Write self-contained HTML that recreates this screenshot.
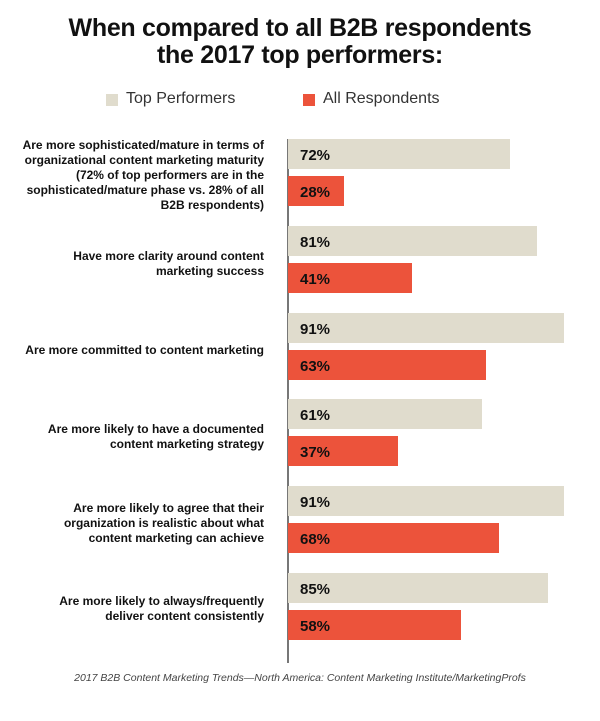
<!DOCTYPE html>
<html><head><meta charset="utf-8"><style>
body{margin:0;background:#fff;width:600px;height:721px;position:relative;font-family:"Liberation Sans",sans-serif;overflow:hidden}
.t{position:absolute;left:0;width:600px;text-align:center;font-weight:bold;font-size:25px;color:#111;letter-spacing:-0.3px}
.bar{position:absolute;left:288px;height:30px}
.g{background:#e0dccd}.r{background:#ec533b}
.v{position:absolute;left:300px;font-weight:bold;font-size:15px;color:#111;line-height:30px;margin-top:2px}
.lab{position:absolute;right:336px;text-align:right;font-weight:bold;font-size:12px;line-height:15px;color:#111;white-space:nowrap}
</style></head><body>
<div class="t" style="top:14px">When compared to all B2B respondents</div>
<div class="t" style="top:41px">the 2017 top performers:</div>
<div style="position:absolute;left:106px;top:94px;width:12px;height:12px;background:#e0dccd"></div>
<div style="position:absolute;left:126px;top:90px;font-size:16px;color:#333">Top Performers</div>
<div style="position:absolute;left:303px;top:94px;width:12px;height:12px;background:#ec533b"></div>
<div style="position:absolute;left:323px;top:90px;font-size:16px;color:#333">All Respondents</div>
<div style="position:absolute;left:287px;top:139px;width:2px;height:524px;background:#777"></div>

<div class="lab" style="top:138px">Are more sophisticated/mature in terms of<br>organizational content marketing maturity<br>(72% of top performers are in the<br>sophisticated/mature phase vs. 28% of all<br>B2B respondents)</div>
<div class="bar g" style="top:139px;width:222px"></div><div class="v" style="top:139px">72%</div>
<div class="bar r" style="top:176px;width:56px"></div><div class="v" style="top:176px">28%</div>

<div class="lab" style="top:249px">Have more clarity around content<br>marketing success</div>
<div class="bar g" style="top:226px;width:249px"></div><div class="v" style="top:226px">81%</div>
<div class="bar r" style="top:263px;width:124px"></div><div class="v" style="top:263px">41%</div>

<div class="lab" style="top:343px">Are more committed to content marketing</div>
<div class="bar g" style="top:313px;width:276px"></div><div class="v" style="top:313px">91%</div>
<div class="bar r" style="top:350px;width:198px"></div><div class="v" style="top:350px">63%</div>

<div class="lab" style="top:422px">Are more likely to have a documented<br>content marketing strategy</div>
<div class="bar g" style="top:399px;width:194px"></div><div class="v" style="top:399px">61%</div>
<div class="bar r" style="top:436px;width:110px"></div><div class="v" style="top:436px">37%</div>

<div class="lab" style="top:501px">Are more likely to agree that their<br>organization is realistic about what<br>content marketing can achieve</div>
<div class="bar g" style="top:486px;width:276px"></div><div class="v" style="top:486px">91%</div>
<div class="bar r" style="top:523px;width:211px"></div><div class="v" style="top:523px">68%</div>

<div class="lab" style="top:594px">Are more likely to always/frequently<br>deliver content consistently</div>
<div class="bar g" style="top:573px;width:260px"></div><div class="v" style="top:573px">85%</div>
<div class="bar r" style="top:610px;width:173px"></div><div class="v" style="top:610px">58%</div>

<div style="position:absolute;left:0;width:600px;top:672px;text-align:center;font-style:italic;font-size:10.5px;color:#444">2017 B2B Content Marketing Trends—North America: Content Marketing Institute/MarketingProfs</div>
</body></html>
